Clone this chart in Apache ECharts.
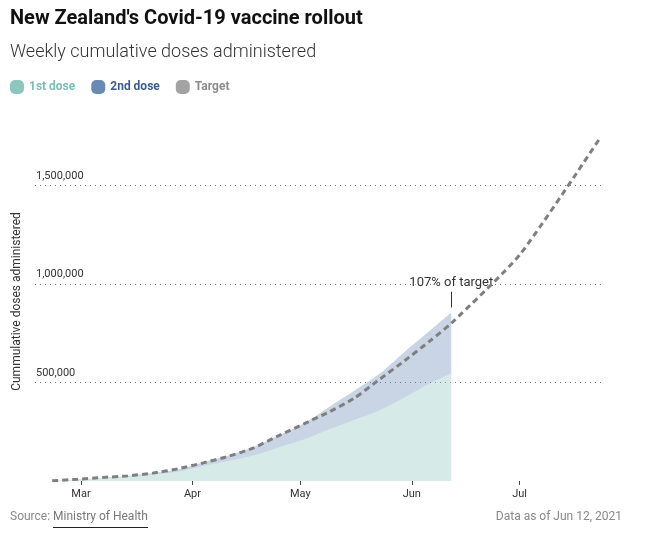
<!DOCTYPE html>
<html>
<head>
<meta charset="utf-8">
<script src="https://cdn.jsdelivr.net/npm/echarts@6/dist/echarts.min.js"></script>
<style>
html,body{margin:0;padding:0;background:#fff;}
#chart{width:669px;height:540px;}
</style>
</head>
<body>
<div id="chart"></div>
<script>
// Weekly cumulative data (dates of each weekly point)
const weekDates = ['2021-02-21','2021-02-28','2021-03-07','2021-03-14','2021-03-21','2021-03-28',
  '2021-04-04','2021-04-11','2021-04-18','2021-04-25','2021-05-02','2021-05-09','2021-05-16',
  '2021-05-23','2021-05-30','2021-06-06','2021-06-12'];
const firstDose = [2000, 8000, 16000, 22000, 33000, 47000, 76000, 101000, 129000, 170000, 210000,
  262000, 310000, 358000, 424000, 495000, 546000];
const secondDose = [0, 1000, 2000, 3000, 7000, 11000, 19000, 28000, 43000, 62000, 82000,
  114000, 148000, 186000, 231000, 267000, 309000];
const targetDates = ['2021-02-21','2021-02-28','2021-03-07','2021-03-14','2021-03-21','2021-03-28',
  '2021-04-04','2021-04-11','2021-04-18','2021-04-25','2021-05-02','2021-05-09','2021-05-16',
  '2021-05-23','2021-05-30','2021-06-06','2021-06-12','2021-07-01','2021-07-23'];
const targetDoses = [1000, 9000, 18000, 26000, 40000, 62000, 92000, 125000, 168000, 230000, 290000,
  350000, 420000, 515000, 610000, 710000, 800000, 1147000, 1730000];
const yTicks = [500000, 1000000, 1500000];
const annotationText = '107% of target';
const lastDate = weekDates[weekDates.length - 1];
const lastTotal = firstDose[firstDose.length - 1] + secondDose[secondDose.length - 1];

const FONT = 'Roboto';
const chart = echarts.init(document.getElementById('chart'), null, {renderer: 'canvas'});
const monthNames = ['Jan','Feb','Mar','Apr','May','Jun','Jul','Aug','Sep','Oct','Nov','Dec'];

const option = {
  animation: false,
  textStyle: {fontFamily: FONT},
  title: [
    {text: "New Zealand's Covid-19 vaccine rollout", left: 10, top: 9, padding: 0,
     textStyle: {fontFamily: FONT, fontSize: 20, fontWeight: 'bold', color: '#111'}},
    {text: 'Weekly cumulative doses administered', left: 10, top: 43, padding: 0,
     textStyle: {fontFamily: FONT, fontSize: 18, fontWeight: 300, color: '#333'}},
    {text: '{a|Source: }{b|Ministry of Health}', left: 10, top: 511, padding: 0,
     textStyle: {fontWeight: 'normal', rich: {
       a: {fontFamily: FONT, fontSize: 12, fontWeight: 'normal', color: '#888'},
       b: {fontFamily: FONT, fontSize: 12, fontWeight: 'normal', color: '#777'}}}},
    {text: 'Data as of Jun 12, 2021', right: 47, top: 511, padding: 0,
     textStyle: {fontFamily: FONT, fontSize: 12, fontWeight: 'normal', color: '#888'}}
  ],
  graphic: [
    {type: 'line', shape: {x1: 53, y1: 527.5, x2: 148, y2: 527.5}, style: {stroke: '#222', lineWidth: 1}}
  ],
  legend: {
    left: 10, top: 80, padding: 0, itemWidth: 14, itemHeight: 14, itemGap: 16,
    icon: 'path://M5,0 H9 A5,5 0 0 1 14,5 V9 A5,5 0 0 1 9,14 H5 A5,5 0 0 1 0,9 V5 A5,5 0 0 1 5,0 Z',
    textStyle: {fontFamily: FONT, fontSize: 12, fontWeight: 'bold'},
    data: [
      {name: '1st dose', textStyle: {color: '#7dbdb4'}},
      {name: '2nd dose', textStyle: {color: '#3d5c8e'}},
      {name: 'Target', textStyle: {color: '#8c8c8c'}}
    ]
  },
  grid: {left: 35, right: 68, top: 140, bottom: 59, containLabel: false},
  xAxis: {
    type: 'time',
    min: '2021-02-16 05:00', max: '2021-07-23 15:20',
    minInterval: 28 * 86400000,
    splitLine: {show: false},
    axisLine: {show: false},
    axisTick: {show: true, length: 4, lineStyle: {color: '#444'}},
    axisLabel: {
      color: '#333', fontSize: 11, fontFamily: FONT, margin: 8,
      formatter: function (v) { const d = new Date(v); return d.getDate() === 1 ? monthNames[d.getMonth()] : ''; }
    }
  },
  yAxis: {
    type: 'value', min: 0, max: 1730000, interval: 500000,
    name: 'Cummulative doses administered', nameLocation: 'middle', nameRotate: 90, nameGap: 12,
    nameTextStyle: {fontFamily: FONT, fontSize: 12, color: '#333', padding: [0, 0, 0, 18]},
    axisLine: {show: false}, axisTick: {show: false},
    splitLine: {show: true, showMinLine: false, showMaxLine: false,
      lineStyle: {type: [1, 4], color: '#777', width: 1}},
    axisLabel: {
      inside: true, margin: 1, showMaxLabel: false, showMinLabel: false,
      verticalAlign: 'bottom', padding: [0, 0, 4, 0],
      color: '#333', fontSize: 11, fontFamily: FONT,
      formatter: function (v) { return yTicks.indexOf(v) >= 0 ? v.toLocaleString('en-US') : ''; }
    }
  },
  series: [
    {
      name: '1st dose', type: 'line', stack: 'doses', smooth: 0.3, symbol: 'none',
      itemStyle: {color: '#8cc7bf'}, lineStyle: {width: 0},
      areaStyle: {color: '#8cc7bf', opacity: 0.36},
      data: weekDates.map((d, i) => [d, firstDose[i]])
    },
    {
      name: '2nd dose', type: 'line', stack: 'doses', smooth: 0.3, symbol: 'none',
      itemStyle: {color: '#6a8ab5'}, lineStyle: {width: 0},
      areaStyle: {color: '#6a8ab5', opacity: 0.36},
      data: weekDates.map((d, i) => [d, secondDose[i]])
    },
    {
      name: 'Target', type: 'line', smooth: 0.2, symbol: 'none', z: 5,
      itemStyle: {color: '#a3a3a3'},
      lineStyle: {color: '#7f7f7f', width: 3, type: [6, 4]},
      data: targetDates.map((d, i) => [d, targetDoses[i]]),
      markLine: {
        silent: true, symbol: ['none', 'none'], animation: false,
        lineStyle: {color: '#333', width: 1, type: 'solid'},
        label: {show: true, position: 'end', formatter: annotationText, distance: 3,
          color: '#333', fontSize: 13, fontFamily: FONT,
          textBorderColor: '#fff', textBorderWidth: 3},
        data: [[{coord: [lastDate, lastTotal + 25000]}, {coord: [lastDate, lastTotal + 105000]}]]
      }
    }
  ]
};
chart.setOption(option);
</script>
</body>
</html>
